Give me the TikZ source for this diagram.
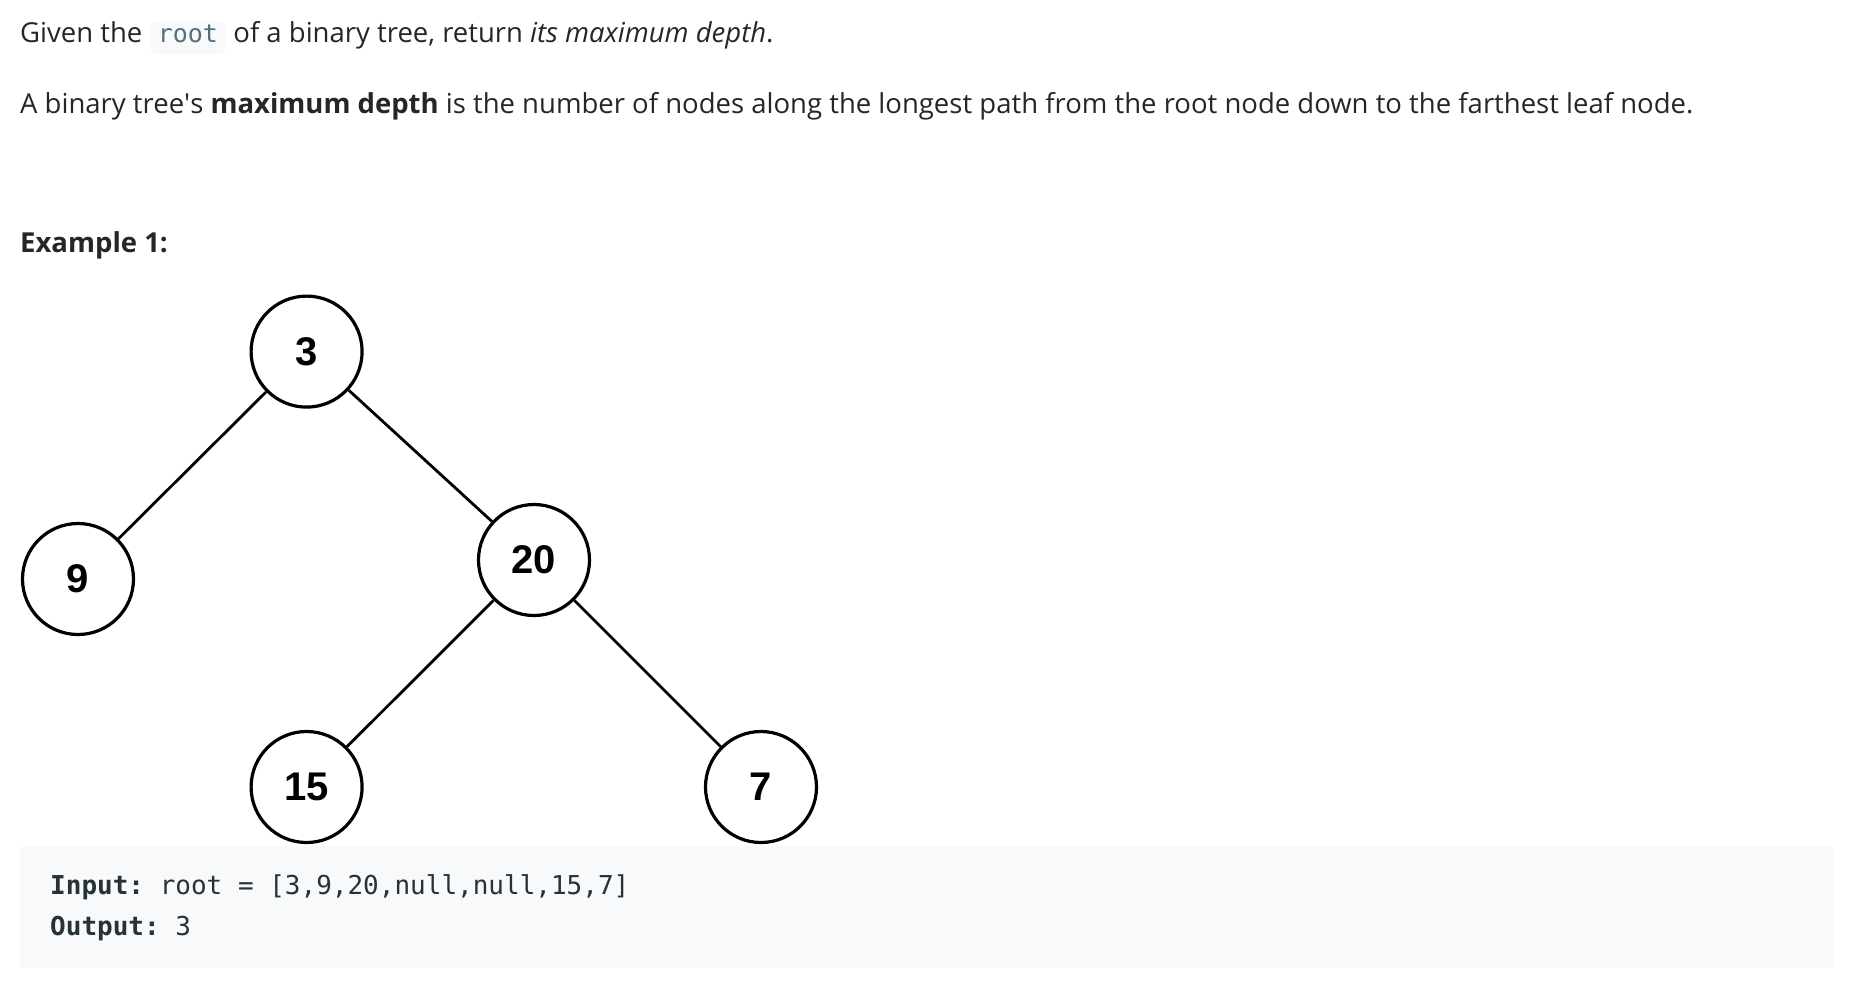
\documentclass[tikz,border=0pt]{standalone}
\usepackage{fontspec}
\setmainfont{Open Sans}
\setmonofont{DejaVu Sans Mono}
\newfontfamily\treefont{Liberation Sans}
\usetikzlibrary{positioning}
\definecolor{bodytext}{HTML}{262626}
\definecolor{codebg}{HTML}{F7F9FA}
\definecolor{codetext}{HTML}{546E7A}
\definecolor{boxtext}{HTML}{263238}
\begin{document}
\begin{tikzpicture}[x=1pt, y=-1pt,
  txt/.style={inner sep=0pt, text=bodytext, font=\fontsize{27.5}{30}\selectfont},
  inlinecode/.style={fill=codebg, rounded corners=5pt, inner xsep=7pt, inner ysep=0pt,
    text height=21pt, text depth=12pt, text=codetext, font=\fontsize{25}{30}\selectfont\ttfamily},
  treenode/.style={circle, draw=black, line width=3.2pt, minimum size=111pt, inner sep=0pt,
    font=\fontsize{40}{44}\selectfont\treefont\bfseries},
  treeedge/.style={draw=black, line width=2.8pt},
  codeline/.style={inner sep=0pt, text=boxtext, font=\fontsize{26}{30}\selectfont\ttfamily}]
\useasboundingbox[fill=white] (0,0) rectangle (1856,986);
% text above the tree
\node[txt, anchor=base west] (given) at (20,42) {Given the};
\node[inlinecode, anchor=base west] (rootcode) at ([xshift=8pt]given.base east) {root};
\node[txt, anchor=base west] (rest) at ([xshift=8pt]rootcode.base east)
       {of a binary tree, return \textit{its maximum depth}.};
\node[txt, anchor=base west] (defn) at (20,113)
       {A binary tree\textquotesingle s \textbf{maximum depth} is the number of nodes along the longest path from the root node down to the farthest leaf node.};
\node[txt, anchor=base west] (example) at (20,252) {\textbf{Example 1:}};
% code box
\fill[codebg, rounded corners=6pt] (20,846) rectangle (1834,968);
\node[codeline, anchor=base west] (input) at (50,894)
       {\textbf{Input:} root = [3,9,20,null,null,15,7]};
\node[codeline, anchor=base west] (output) at (50,935)
       {\textbf{Output:} 3};
% the tree
\node[treenode] (n3) at (306.6,351.6) {3};
\node[treenode] (n9) at (78,579) {9};
\node[treenode] (n20) at (534,560) {20};
\node[treenode] (n15) at (306.6,787) {15};
\node[treenode] (n7) at (761,787) {7};
\draw[treeedge] (n3) -- (n9);
\draw[treeedge] (n3) -- (n20);
\draw[treeedge] (n20) -- (n15);
\draw[treeedge] (n20) -- (n7);
\end{tikzpicture}
\end{document}
